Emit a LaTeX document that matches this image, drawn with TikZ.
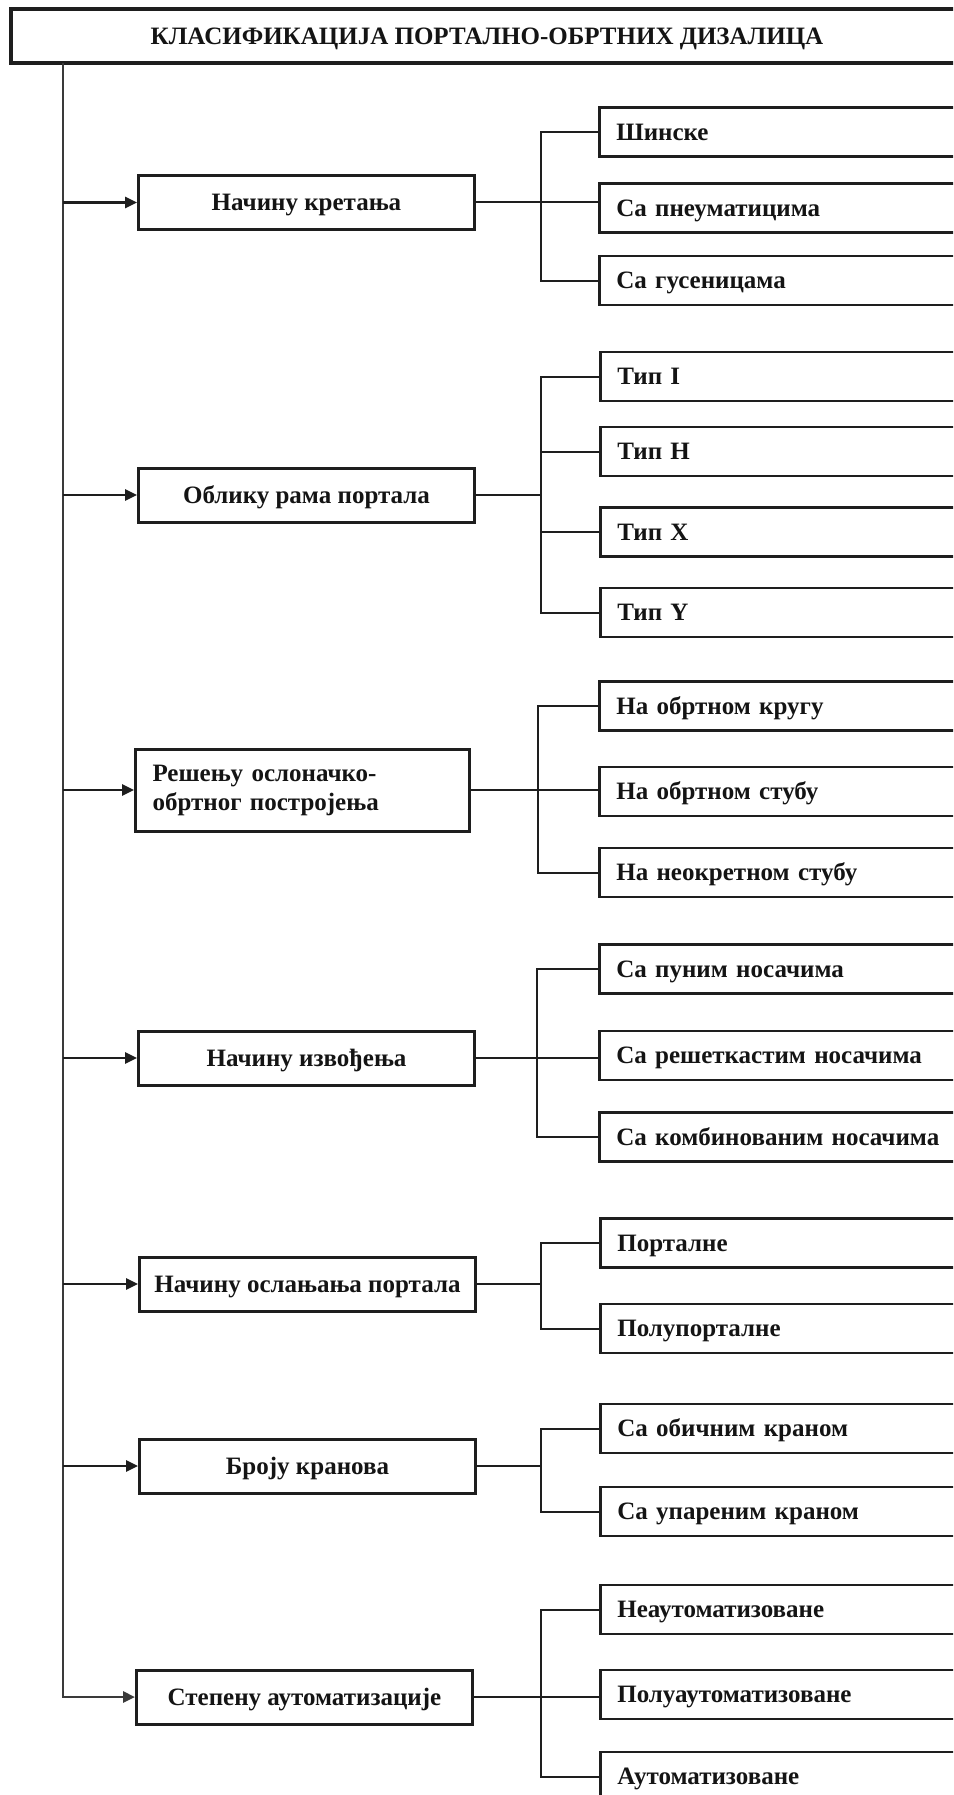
\documentclass[tikz,border=0pt]{standalone}
\usepackage{fontspec}
\setmainfont{Liberation Serif}
\usetikzlibrary{arrows.meta}
\definecolor{ln}{HTML}{1E1E1E}
\definecolor{trunkc}{HTML}{3A3A3A}
\definecolor{txt}{HTML}{141414}
\begin{document}
\begin{tikzpicture}[x=1pt,y=-1pt,
  every node/.style={font=\fontsize{25}{29}\selectfont\bfseries, text=txt},
  titlebox/.style={draw=ln, line width=4pt, minimum width=952pt, minimum height=54pt, inner sep=0pt, anchor=west, text height=18pt, text depth=1.5pt},
  catbox/.style={draw=ln, line width=3pt, minimum width=336pt, minimum height=54pt, inner xsep=4pt, inner ysep=0pt, anchor=west, align=center, text height=18pt, text depth=1.5pt},
  catboxtwo/.style={draw=ln, line width=3pt, text width=300pt, minimum height=82pt, inner xsep=17pt, inner ysep=0pt, anchor=west, align=left},
  leafbox/.style={draw=ln, line width=2.6pt, text width=336pt, minimum height=49pt, inner xsep=17pt, inner ysep=0pt, anchor=west, align=left, text height=18pt, text depth=1.5pt},
  feed/.style={draw=ln, line width=2.6pt, -{Triangle[length=12pt,width=11pt]}},
  trunkline/.style={draw=trunkc, line width=2.6pt, -{Triangle[length=12pt,width=11pt]}},
  link/.style={draw=ln, line width=2pt},
]
\useasboundingbox (0,0) rectangle (953,1795);
\clip (0,0) rectangle (953,1795);
\fill[white] (0,0) rectangle (953,1795);

% title
\node[titlebox] (T) at (9,36) {КЛАСИФИКАЦИЈА ПОРТАЛНО-ОБРТНИХ ДИЗАЛИЦА};

% category boxes
\node[catbox] (A) at (137,202.5) {Начину кретања};
\node[catbox] (B) at (137,495) {Облику рама портала};
\node[catboxtwo] (C) at (134,790) {Решењу ослоначко-\\обртног постројења};
\node[catbox] (D) at (137,1058) {Начину извођења};
\node[catbox] (E) at (138,1284) {Начину ослањања портала};
\node[catbox] (F) at (138,1466) {Броју кранова};
\node[catbox] (G) at (135,1697) {Степену аутоматизације};

% leaf boxes
\node[leafbox] (A1) at (598,132) {Шинске};
\node[leafbox] (A2) at (598,208) {Са пнеуматицима};
\node[leafbox] (A3) at (598,280.5) {Са гусеницама};
\node[leafbox] (B1) at (599,376.5) {Тип I};
\node[leafbox] (B2) at (599,451.5) {Тип H};
\node[leafbox] (B3) at (599,532) {Тип X};
\node[leafbox] (B4) at (599,612.5) {Тип Y};
\node[leafbox] (C1) at (598,706) {На обртном кругу};
\node[leafbox] (C2) at (598,791.5) {На обртном стубу};
\node[leafbox] (C3) at (598,872.5) {На неокретном стубу};
\node[leafbox] (D1) at (598,969) {Са пуним носачима};
\node[leafbox] (D2) at (598,1055.5) {Са решеткастим носачима};
\node[leafbox] (D3) at (598,1137) {Са комбинованим носачима};
\node[leafbox] (E1) at (599,1243) {Порталне};
\node[leafbox] (E2) at (599,1328.5) {Полупорталне};
\node[leafbox] (F1) at (599,1428.5) {Са обичним краном};
\node[leafbox] (F2) at (599,1511.5) {Са упареним краном};
\node[leafbox] (G1) at (599,1609.5) {Неаутоматизоване};
\node[leafbox] (G2) at (599,1694.5) {Полуаутоматизоване};
\node[leafbox] (G3) at (599,1776.5) {Аутоматизоване};

% trunk
\coordinate (trunk) at (63,63);
\draw[trunkline] (trunk) |- (G.west);
\foreach \n in {A,B,C,D,E,F}{
  \draw[feed] (\n.west -| trunk) -- (\n.west);
}

% brackets
\coordinate (bA) at (541,0);
\coordinate (bB) at (541,0);
\coordinate (bC) at (538,0);
\coordinate (bD) at (537,0);
\coordinate (bE) at (541,0);
\coordinate (bF) at (541,0);
\coordinate (bG) at (541,0);

\draw[link] (A1.west) -- (A1.west -| bA) -- (A3.west -| bA) -- (A3.west);
\draw[link] (A.east) -- (A.east -| A2.west);

\draw[link] (B1.west) -- (B1.west -| bB) -- (B4.west -| bB) -- (B4.west);
\draw[link] (B2.west -| bB) -- (B2.west);
\draw[link] (B3.west -| bB) -- (B3.west);
\draw[link] (B.east) -- (B.east -| bB);

\draw[link] (C1.west) -- (C1.west -| bC) -- (C3.west -| bC) -- (C3.west);
\draw[link] (C.east) -- (C.east -| C2.west);

\draw[link] (D1.west) -- (D1.west -| bD) -- (D3.west -| bD) -- (D3.west);
\draw[link] (D.east) -- (D.east -| D2.west);

\draw[link] (E1.west) -- (E1.west -| bE) -- (E2.west -| bE) -- (E2.west);
\draw[link] (E.east) -- (E.east -| bE);

\draw[link] (F1.west) -- (F1.west -| bF) -- (F2.west -| bF) -- (F2.west);
\draw[link] (F.east) -- (F.east -| bF);

\draw[link] (G1.west) -- (G1.west -| bG) -- (G3.west -| bG) -- (G3.west);
\draw[link] (G.east) -- (G.east -| G2.west);
\end{tikzpicture}
\end{document}
